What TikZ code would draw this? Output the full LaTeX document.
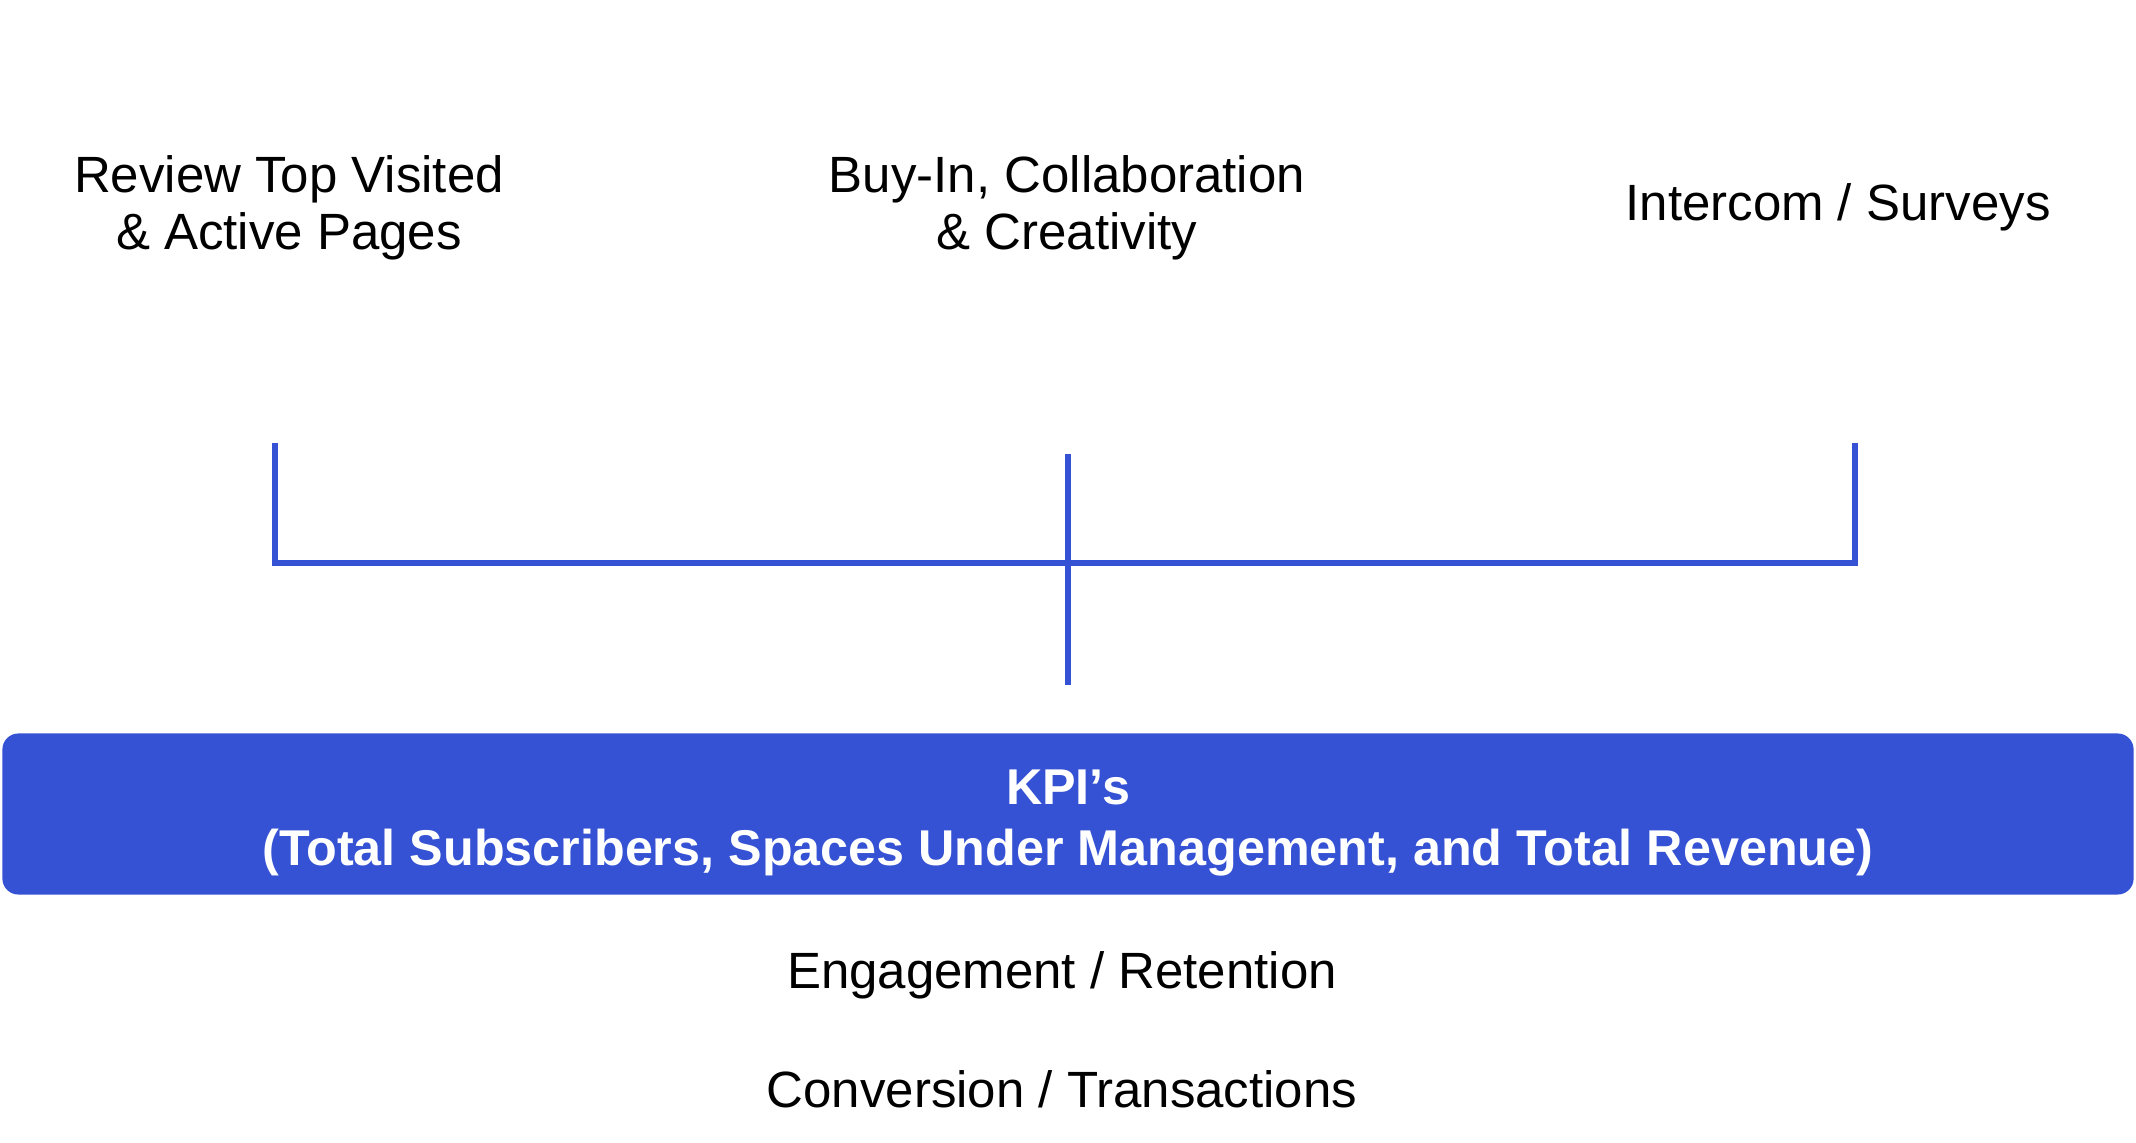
\documentclass[tikz,border=0pt]{standalone}
\usepackage{fontspec}
\setmainfont{Liberation Sans}
\usetikzlibrary{positioning}
\definecolor{kpiBlue}{RGB}{53,82,212}

\begin{document}
\begin{tikzpicture}[
  x=0.01cm,
  y=-0.01cm,
  source/.style={
    align=center,
    inner sep=0pt,
    font=\fontsize{14.5}{16.3}\selectfont
  },
  metric/.style={
    inner sep=0pt,
    font=\fontsize{14.5}{16.3}\selectfont
  },
  kpibar/.style={
    fill=kpiBlue,
    rounded corners=0.16cm,
    minimum width=21.3cm,
    minimum height=1.61cm
  },
  kpitext/.style={
    align=center,
    inner sep=0pt,
    text=white,
    font=\bfseries\fontsize{14.3}{17.2}\selectfont
  },
  link/.style={kpiBlue,line width=1.7pt}
]
  \useasboundingbox (0,0) rectangle (2136,1142);
  % top sources
  \node[source] (pages) at (289,208) {Review Top Visited\\\& Active Pages};
  \node[source] (buyin) at (1067,208) {Buy-In, Collaboration\\\& Creativity};
  \node[source] (intercom) at (1838,207) {Intercom / Surveys};
  % bracket ends
  \coordinate (pagesTop) at (275,443);
  \coordinate (buyinTop) at (1068,454);
  \coordinate (intercomTop) at (1855,443);
  \coordinate (joinLeft) at (275,563);
  \coordinate (joinRight) at (1855,563);
  \coordinate (stem) at (1068,685);
  % KPI bar and metrics
  \node[kpibar] (kpi) at (1068,814) {};
  \node[kpitext] (kpiText) at ([yshift=-0.09cm]kpi.center) {KPI’s\\(Total Subscribers, Spaces Under Management, and Total Revenue)};
  \node[metric] (engage) at (1062,975) {Engagement / Retention};
  \node[metric] (convert) at (1062,1089) {Conversion / Transactions};
  \draw[link] (pagesTop) -- (joinLeft) -- (joinRight) -- (intercomTop);
  \draw[link] (buyinTop) -- (stem);
\end{tikzpicture}
\end{document}
